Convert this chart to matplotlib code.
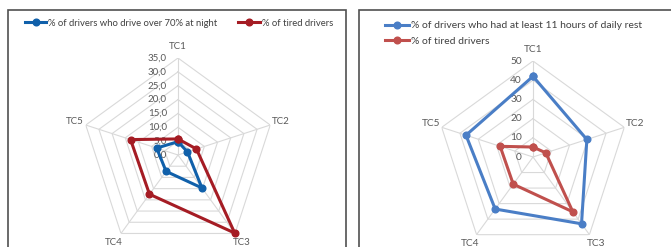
import numpy as np
import matplotlib
matplotlib.use("Agg")
import matplotlib.pyplot as plt
from matplotlib.patches import Rectangle
from matplotlib.lines import Line2D
import matplotlib.transforms as mtransforms

plt.rcParams['font.family'] = ['Lato', 'DejaVu Sans']

categories = ['TC1', 'TC2', 'TC3', 'TC4', 'TC5']
night_driving = [4.8, 3.6, 14.7, 7.3, 8.1]
tired_left = [5.8, 7.0, 34.8, 17.5, 18.0]
daily_rest = [42.0, 29.5, 43.0, 33.5, 36.7]
tired_right = [5.2, 7.0, 35.3, 17.5, 18.0]

left_ticks = [0, 5, 10, 15, 20, 25, 30, 35]
right_ticks = [0, 10, 20, 30, 40, 50]

W, H = 671, 247
fig = plt.figure(figsize=(W / 100, H / 100), dpi=100)
fig.patch.set_facecolor('white')

grid_col = '#D9D9D9'
lab_col = '#595959'


def make_radar(cx, cy, R, ticks, fmt, fs):
    ax = fig.add_axes([(cx - R) / W, (H - cy - R) / H, 2 * R / W, 2 * R / H],
                      projection='polar')
    ax.set_theta_offset(np.pi / 2)
    ax.set_theta_direction(-1)
    ax.set_ylim(0, ticks[-1])
    ax.axis('off')
    n = len(categories)
    ang = np.linspace(0, 2 * np.pi, n, endpoint=False)
    closed = np.append(ang, ang[0])
    for t in ticks[1:]:
        ax.plot(closed, [t] * (n + 1), color=grid_col, lw=0.8, zorder=1)
    for a in ang:
        ax.plot([a, a], [0, ticks[-1]], color=grid_col, lw=0.8, zorder=1)
    off = mtransforms.offset_copy(ax.transData, fig=fig, x=-8, y=0, units='points')
    for t in ticks:
        ax.text(0, t, fmt(t), transform=off, ha='right', va='center',
                fontsize=fs, color=lab_col, clip_on=False)
    for a, c in zip(ang, categories):
        ax.text(a, ticks[-1] * 1.12, c, ha='center', va='center',
                fontsize=fs, color=lab_col, clip_on=False)
    return ax, ang


def series(ax, ang, vals, color):
    a = np.append(ang, ang[0])
    v = list(vals) + [vals[0]]
    ax.plot(a, v, color=color, lw=2.2, marker='o', markersize=4.8, zorder=3,
            clip_on=False)


# left chart
axl, angl = make_radar(178, 155, 97, left_ticks,
                       lambda t: f"{t:.1f}".replace('.', ','), 7.0)
blue_l, red_l = '#1060AA', '#A51C24'
series(axl, angl, night_driving, blue_l)
series(axl, angl, tired_left, red_l)

# right chart
axr, angr = make_radar(533, 157, 96, right_ticks, lambda t: f"{t}", 7.3)
blue_r, red_r = '#4A7EC6', '#C0504D'
series(axr, angr, daily_rest, blue_r)
series(axr, angr, tired_right, red_r)


def handle(color):
    return Line2D([], [], color=color, lw=2.2, marker='o', markersize=4.8)


leg1 = fig.legend([handle(blue_l), handle(red_l)],
                  ['% of drivers who drive over 70% at night', '% of tired drivers'],
                  loc='center left', bbox_to_anchor=(20 / W, 1 - 23 / H),
                  ncol=2, frameon=False, fontsize=6.8, handlelength=2.3,
                  handletextpad=0.2, columnspacing=2.2, borderpad=0,
                  labelcolor='#404040')
leg2 = fig.legend([handle(blue_r), handle(red_r)],
                  ['% of drivers who had at least 11 hours of daily rest', '% of tired drivers'],
                  loc='upper left', bbox_to_anchor=(380 / W, 1 - 16 / H),
                  ncol=1, frameon=False, fontsize=7.5, handlelength=2.3,
                  handletextpad=0.2, labelspacing=0.6, borderpad=0,
                  labelcolor='#404040')

# panel borders
for x0, x1 in [(8, 346), (359, 700)]:
    fig.patches.append(Rectangle((x0 / W, -0.1), (x1 - x0) / W, 1.1 - 10 / H,
                                 transform=fig.transFigure, fill=False,
                                 edgecolor='#505050', lw=1.2, zorder=0))

fig.savefig('out.png', dpi=100)
